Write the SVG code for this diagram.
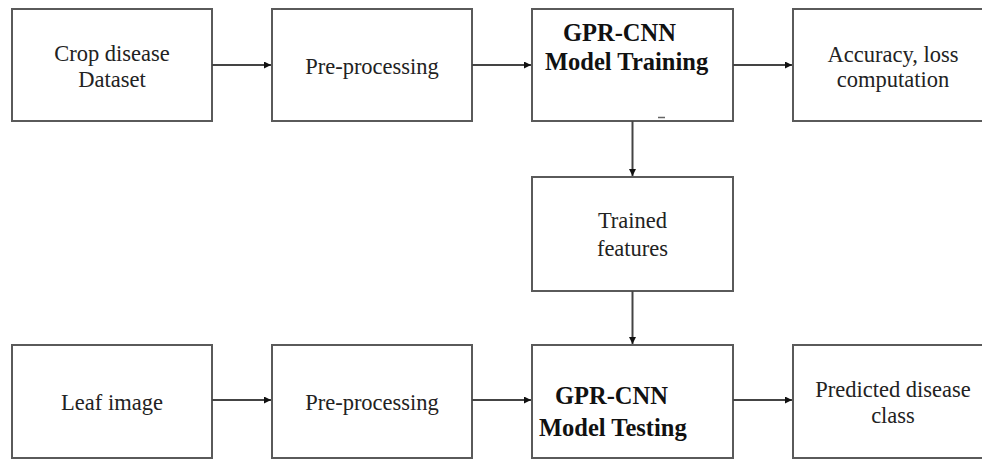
<svg xmlns="http://www.w3.org/2000/svg" width="982" height="459" viewBox="0 0 982 459">
<style>
.box{fill:#fff;stroke:#5a5a5a;stroke-width:2}
.t{font-family:"Liberation Serif",Tinos,"Times New Roman","DejaVu Serif",serif;font-size:22.5px;fill:#222;text-anchor:middle}
.b{font-family:"Liberation Serif",Tinos,"Times New Roman","DejaVu Serif",serif;font-size:24.5px;font-weight:bold;fill:#111}
.c{stroke:#444;stroke-width:2;fill:none;marker-end:url(#ah)}
</style>
<defs>
<marker id="ah" viewBox="0 0 6 6" refX="6" refY="3" markerWidth="3.5" markerHeight="3.5" orient="auto" markerUnits="strokeWidth">
<path d="M0,0 L6,3 L0,6 z" fill="#111"/>
</marker>
</defs>
<rect width="982" height="459" fill="#fff"/>
<g id="n1"><rect class="box" x="12" y="9" width="200" height="112"/><text class="t" x="112" y="61">Crop disease</text><text class="t" x="112" y="87">Dataset</text></g>
<g id="n2"><rect class="box" x="272" y="9" width="200" height="112"/><text class="t" x="372" y="74">Pre-processing</text></g>
<g id="n3"><rect class="box" x="532" y="9" width="201" height="112"/><text class="b" x="563" y="41">GPR-CNN</text><text class="b" x="545" y="70">Model Training</text><line x1="658" y1="117.5" x2="665" y2="117.5" stroke="#666" stroke-width="1.5"/></g>
<g id="n4"><rect class="box" x="793" y="9" width="200" height="112"/><text class="t" x="893" y="62">Accuracy, loss</text><text class="t" x="893" y="87">computation</text></g>
<g id="n5"><rect class="box" x="532" y="177" width="201" height="114"/><text class="t" x="632.5" y="228">Trained</text><text class="t" x="632.5" y="256">features</text></g>
<g id="n6"><rect class="box" x="12" y="345" width="200" height="113"/><text class="t" x="112" y="410">Leaf image</text></g>
<g id="n7"><rect class="box" x="272" y="345" width="200" height="113"/><text class="t" x="372" y="410">Pre-processing</text></g>
<g id="n8"><rect class="box" x="532" y="345" width="201" height="113"/><text class="b" x="555" y="404">GPR-CNN</text><text class="b" x="539" y="436">Model Testing</text></g>
<g id="n9"><rect class="box" x="793" y="345" width="200" height="113"/><text class="t" x="893" y="397">Predicted disease</text><text class="t" x="893" y="423">class</text></g>
<g id="connectors">
<line class="c" x1="212" y1="65" x2="271" y2="65"/>
<line class="c" x1="472" y1="65" x2="531" y2="65"/>
<line class="c" x1="733" y1="65" x2="792" y2="65"/>
<line class="c" x1="632.5" y1="121" x2="632.5" y2="176"/>
<line class="c" x1="632.5" y1="291" x2="632.5" y2="344"/>
<line class="c" x1="212" y1="400" x2="271" y2="400"/>
<line class="c" x1="472" y1="400" x2="531" y2="400"/>
<line class="c" x1="733" y1="400" x2="792" y2="400"/>
</g>
</svg>
